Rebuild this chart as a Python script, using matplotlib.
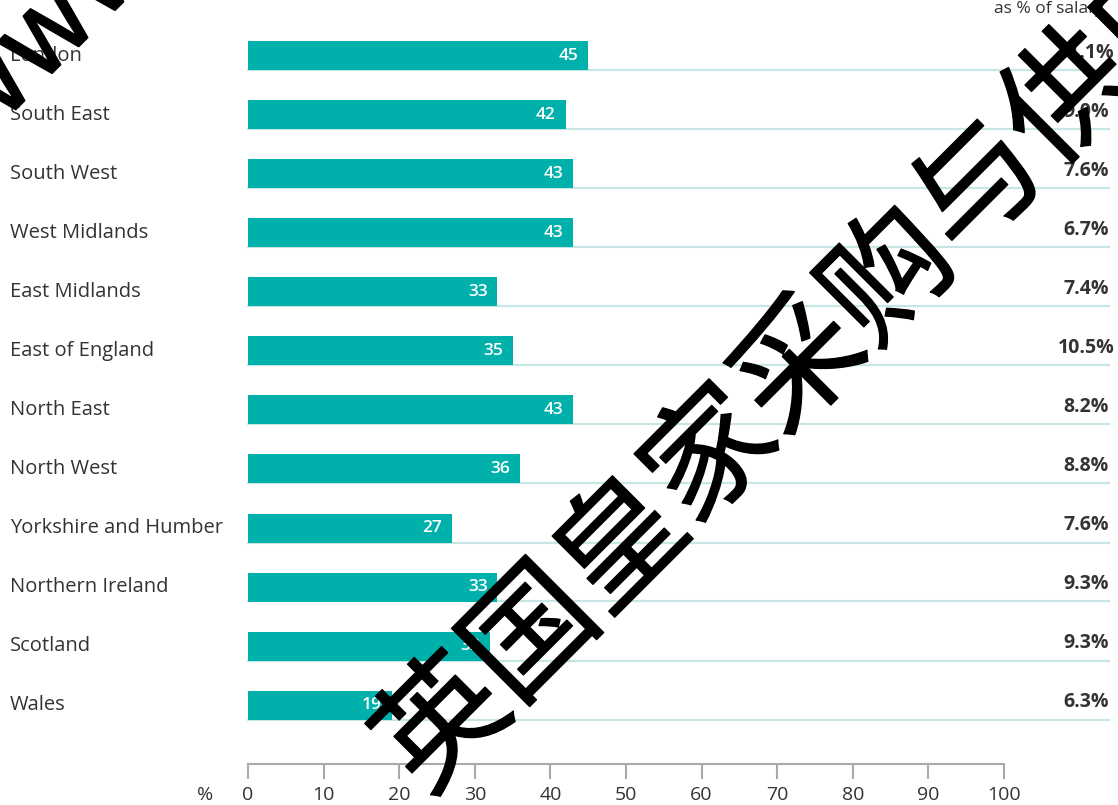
import numpy as np
import matplotlib as mpl
import matplotlib.pyplot as plt
import matplotlib.transforms as mtransforms
import matplotlib.patheffects as pe

#regional data
regions = ['London', 'South East', 'South West', 'West Midlands', 'East Midlands',
           'East of England', 'North East', 'North West', 'Yorkshire and Humber',
           'Northern Ireland', 'Scotland', 'Wales']
bar_values = [45, 42, 43, 43, 33, 35, 43, 36, 27, 33, 32, 19]
salary_share = ['11.1%', '9.0%', '7.6%', '6.7%', '7.4%', '10.5%',
                '8.2%', '8.8%', '7.6%', '9.3%', '9.3%', '6.3%']
x_ticks = [0, 10, 20, 30, 40, 50, 60, 70, 80, 90, 100]

#colours
teal = '#00b0aa'
pale_teal = '#c6e6e4'
txt_col = '#333333'
axis_col = '#aaaaaa'

mpl.rcParams['font.family'] = ['Open Sans', 'DejaVu Sans']

#figure is 1118x805 pixels
fig_w, fig_h = 11.18, 8.05
fig = plt.figure(figsize=(fig_w, fig_h), dpi=100)

#axes position in pixels, x=0 sits at 248px, x=100 at 1004px
px_l, px_r, px_t, px_b = 248., 1110., 20., 764.
x_scale = (1004. - 248.) / 100.
row_h = 59.
row0 = 56.
ax = fig.add_axes([px_l / 1118., (805. - px_b) / 805.,
                   (px_r - px_l) / 1118., (px_b - px_t) / 805.])
ax.set_xlim(0, (px_r - px_l) / x_scale)
ax.set_ylim((px_b - row0) / row_h, (px_t - row0) / row_h)

ypos = np.arange(len(regions))
bar_h = 29. / row_h

#pale underline running across each row
x_end = (px_r - px_l) / x_scale
for y in ypos:
    ax.plot([-0.1, x_end], [y + bar_h / 2, y + bar_h / 2], color=pale_teal,
            linewidth=1.6, solid_capstyle='butt', zorder=1, clip_on=False)

ax.barh(ypos, bar_values, height=bar_h, color=teal, zorder=2)

#values inside bars
for y, v in zip(ypos, bar_values):
    ax.annotate(str(v), xy=(v, y), xytext=(-7, 0), textcoords='offset points',
                ha='right', va='center', color='white', fontsize=12.5,
                fontweight='semibold', zorder=3)

#region names on the left
for y, name in zip(ypos, regions):
    ax.text((10. - px_l) / x_scale, y, name, ha='left', va='center',
            fontsize=14.5, color=txt_col, clip_on=False)

#share of salary column
for y, s in zip(ypos, salary_share):
    ax.text((1086. - px_l) / x_scale, y - 0.05, s, ha='center', va='center',
            fontsize=14, fontweight='bold', color=txt_col, clip_on=False)
ax.text((1104. - px_l) / x_scale, (9. - row0) / row_h, 'as % of salary',
        ha='right', va='center', fontsize=12.5, color=txt_col, clip_on=False)

#x axis
for side in ['left', 'right', 'top']:
    ax.spines[side].set_visible(False)
ax.spines['bottom'].set_bounds(0, 100)
ax.spines['bottom'].set_color(axis_col)
ax.spines['bottom'].set_linewidth(1.5)
ax.set_yticks([])
ax.set_xticks(x_ticks)
ax.set_xticklabels([str(t) for t in x_ticks])
ax.tick_params(axis='x', length=11, width=1.5, color=axis_col, pad=5,
               labelsize=14, labelcolor=txt_col)
ax.annotate('%', xy=((205. - px_l) / x_scale, 0), xycoords=('data', 'axes fraction'),
            xytext=(0, -16), textcoords='offset points', ha='center', va='top',
            fontsize=14, color=txt_col, annotation_clip=False)

#diagonal watermark, strokes thickened slightly
to_px = mtransforms.Affine2D().scale(1. / 1118., 1. / 805.) + fig.transFigure
thick = [pe.withStroke(linewidth=1.0, foreground='black')]
fig.text(400., 805. - 771., '英国皇家采购与供应学会', transform=to_px,
         rotation=45, rotation_mode='anchor', ha='left', va='center',
         fontsize=91, color='black', family=['Noto Sans CJK SC'],
         path_effects=thick, zorder=10)
fig.text(-25., 805. - 150., 'www.', transform=to_px,
         rotation=45, rotation_mode='anchor', ha='left', va='baseline',
         fontsize=80, color='black', family=['Noto Sans CJK SC'],
         path_effects=[pe.withStroke(linewidth=1.5, foreground='black')], zorder=10)

plt.savefig('out.png', dpi=100)
